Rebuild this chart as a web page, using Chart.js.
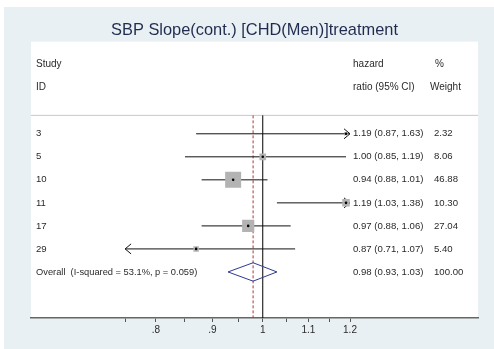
<!DOCTYPE html>
<html>
<head>
<meta charset="utf-8">
<script src="https://cdn.jsdelivr.net/npm/chart.js@4"></script>
<style>
  html, body { margin: 0; padding: 0; background: #ffffff; }
  #wrap { width: 494px; height: 349px; }
</style>
</head>
<body>
<div id="wrap"><canvas id="forest" width="494" height="349"></canvas></div>
<script>
// Study-level results (hazard ratio with 95% CI and % weight)
const studyIds    = ['3', '5', '10', '11', '17', '29'];
const hazardRatio = [1.19, 1.00, 0.94, 1.19, 0.97, 0.87];
const ciLower     = [0.87, 0.85, 0.88, 1.03, 0.88, 0.71];
const ciUpper     = [1.63, 1.19, 1.01, 1.38, 1.06, 1.07];
const weights     = [2.32, 8.06, 46.88, 10.30, 27.04, 5.40];

// Pooled estimate
const overallLabel  = 'Overall  (I-squared = 53.1%, p = 0.059)';
const overallHR     = 0.98;
const overallLower  = 0.93;
const overallUpper  = 1.03;
const overallWeight = 100.00;

// Axis ticks (log scale); only some carry a label
const tickValues = [0.75, 0.8, 0.85, 0.9, 0.95, 1, 1.05, 1.1, 1.15, 1.2];
const tickLabels = ['', '.8', '', '.9', '', '1', '', '1.1', '', '1.2'];

const chartTitle = 'SBP Slope(cont.) [CHD(Men)]treatment';
const headerLeft  = ['Study', 'ID'];
const headerMid   = ['hazard', 'ratio (95% CI)'];
const headerRight = ['%', 'Weight'];

const FONT = '"Liberation Sans", Arial, Helvetica, sans-serif';
const TEXT_COLOR = '#2a2a2a';
const OVERALL_ROW = studyIds.length;
const fmt = v => v.toFixed(2);
const ciText = (hr, lo, hi) => `${fmt(hr)} (${fmt(lo)}, ${fmt(hi)})`;
const boxSide = w => 2.34 * Math.sqrt(w);

const forestPlugin = {
  id: 'forest',
  beforeDraw(chart) {
    const { ctx, chartArea: a, width, height } = chart;
    ctx.save();
    ctx.fillStyle = '#ffffff';
    ctx.fillRect(0, 0, width, height);
    ctx.fillStyle = '#e9f0f3';
    ctx.fillRect(4, 7, width - 4, height - 7);
    ctx.fillStyle = '#ffffff';
    ctx.fillRect(a.left, a.top, a.right - a.left, a.bottom - a.top);
    ctx.restore();
  },
  beforeDatasetsDraw(chart) {
    const { ctx, chartArea: a, scales: { x, y } } = chart;
    const sepY = y.getPixelForValue(-0.8);
    ctx.save();
    // header separator
    ctx.strokeStyle = '#c8c8c8';
    ctx.lineWidth = 1;
    ctx.beginPath();
    ctx.moveTo(a.left, sepY); ctx.lineTo(a.right, sepY);
    ctx.stroke();

    // line of no effect
    const x1 = x.getPixelForValue(1);
    ctx.strokeStyle = '#000000';
    ctx.beginPath();
    ctx.moveTo(x1, sepY); ctx.lineTo(x1, a.bottom);
    ctx.stroke();

    // pooled estimate reference line
    const xo = x.getPixelForValue(overallHR);
    ctx.strokeStyle = '#a83a3a';
    ctx.setLineDash([3, 2]);
    ctx.beginPath();
    ctx.moveTo(xo, sepY); ctx.lineTo(xo, a.bottom);
    ctx.stroke();
    ctx.setLineDash([]);

    // confidence intervals, clipped to the tick range with arrows
    const lo = tickValues[0], hi = tickValues[tickValues.length - 1];
    ctx.strokeStyle = '#111111';
    const arrow = (px, py, dir) => {
      ctx.beginPath();
      ctx.moveTo(px - dir * 6, py - 5);
      ctx.lineTo(px, py);
      ctx.lineTo(px - dir * 6, py + 5);
      ctx.stroke();
    };
    hazardRatio.forEach((hr, i) => {
      const py = y.getPixelForValue(i);
      const xa = x.getPixelForValue(Math.max(ciLower[i], lo));
      const xb = x.getPixelForValue(Math.min(ciUpper[i], hi));
      ctx.beginPath();
      ctx.moveTo(xa, py); ctx.lineTo(xb, py);
      ctx.stroke();
      if (ciLower[i] < lo) arrow(xa, py, -1);
      if (ciUpper[i] > hi) arrow(xb, py, 1);
    });
    ctx.restore();
  },
  afterDatasetsDraw(chart) {
    const { ctx, scales: { x, y } } = chart;
    // pooled diamond
    const yc = y.getPixelForValue(OVERALL_ROW);
    const yt = y.getPixelForValue(OVERALL_ROW - 0.4);
    const yb = y.getPixelForValue(OVERALL_ROW + 0.4);
    ctx.save();
    ctx.strokeStyle = '#2e3a94';
    ctx.lineWidth = 1;
    ctx.beginPath();
    ctx.moveTo(x.getPixelForValue(overallLower), yc);
    ctx.lineTo(x.getPixelForValue(overallHR), yt);
    ctx.lineTo(x.getPixelForValue(overallUpper), yc);
    ctx.lineTo(x.getPixelForValue(overallHR), yb);
    ctx.closePath();
    ctx.stroke();
    ctx.restore();
  },
  afterDraw(chart) {
    const { ctx, chartArea: a, scales: { x, y } } = chart;
    const colLeft = a.left + 5;
    const colMid = x.getPixelForValue(tickValues[tickValues.length - 1]) + 3;
    const colRight = colMid + 81;
    ctx.save();
    ctx.fillStyle = TEXT_COLOR;
    ctx.textBaseline = 'middle';
    ctx.textAlign = 'left';
    ctx.font = '10px ' + FONT;
    headerLeft.forEach((t, k) => ctx.fillText(t, colLeft, y.getPixelForValue(-3 + k)));
    headerMid.forEach((t, k) => ctx.fillText(t, colMid, y.getPixelForValue(-3 + k)));
    ctx.fillText(headerRight[0], colRight + 1, y.getPixelForValue(-3));
    ctx.fillText(headerRight[1], colRight - 4, y.getPixelForValue(-2));
    ctx.font = '9.6px ' + FONT;
    studyIds.forEach((id, i) => {
      const py = y.getPixelForValue(i);
      ctx.fillText(id, colLeft, py);
      ctx.fillText(ciText(hazardRatio[i], ciLower[i], ciUpper[i]), colMid, py);
      ctx.fillText(fmt(weights[i]), colRight, py);
    });
    const po = y.getPixelForValue(OVERALL_ROW);
    ctx.font = '9.3px ' + FONT;
    ctx.fillText(overallLabel, colLeft, po);
    ctx.font = '9.6px ' + FONT;
    ctx.fillText(ciText(overallHR, overallLower, overallUpper), colMid, po);
    ctx.fillText(fmt(overallWeight), colRight, po);
    ctx.restore();
  }
};

const points = hazardRatio.map((v, i) => ({ x: v, y: i }));

new Chart(document.getElementById('forest'), {
  type: 'scatter',
  data: {
    datasets: [
      {
        // point estimate markers
        data: points,
        pointStyle: 'circle',
        pointRadius: 1.3,
        pointBackgroundColor: '#000000',
        pointBorderWidth: 0
      },
      {
        // weight boxes
        data: points,
        pointStyle: 'rect',
        pointRadius: c => boxSide(weights[c.dataIndex]) / Math.SQRT2,
        pointBackgroundColor: '#b3b3b3',
        pointBorderWidth: 0
      }
    ]
  },
  options: {
    responsive: false,
    devicePixelRatio: 1,
    animation: false,
    events: [],
    layout: { padding: { left: 31, right: 16, top: 0, bottom: 11 } },
    plugins: {
      legend: { display: false },
      tooltip: { enabled: false },
      title: {
        display: true,
        text: chartTitle,
        color: '#1f2c4f',
        font: { family: FONT, size: 16.4, weight: 'normal', lineHeight: 1.2 },
        padding: { top: 21, bottom: 1 }
      }
    },
    scales: {
      x: {
        type: 'logarithmic',
        min: 0.6161,
        max: 1.568,
        bounds: 'data',
        afterBuildTicks: s => { s.ticks = tickValues.map(v => ({ value: v })); },
        ticks: {
          autoSkip: false,
          maxRotation: 0,
          padding: 2,
          color: TEXT_COLOR,
          font: { family: FONT, size: 10 },
          callback: (v, i) => tickLabels[i]
        },
        grid: {
          drawOnChartArea: false,
          drawTicks: true,
          tickLength: 4,
          color: '#555555'
        },
        border: { display: true, color: '#666666', width: 1.5 }
      },
      y: {
        type: 'linear',
        min: -4,
        max: 8,
        reverse: true,
        display: false
      }
    }
  },
  plugins: [forestPlugin]
});
</script>
</body>
</html>
